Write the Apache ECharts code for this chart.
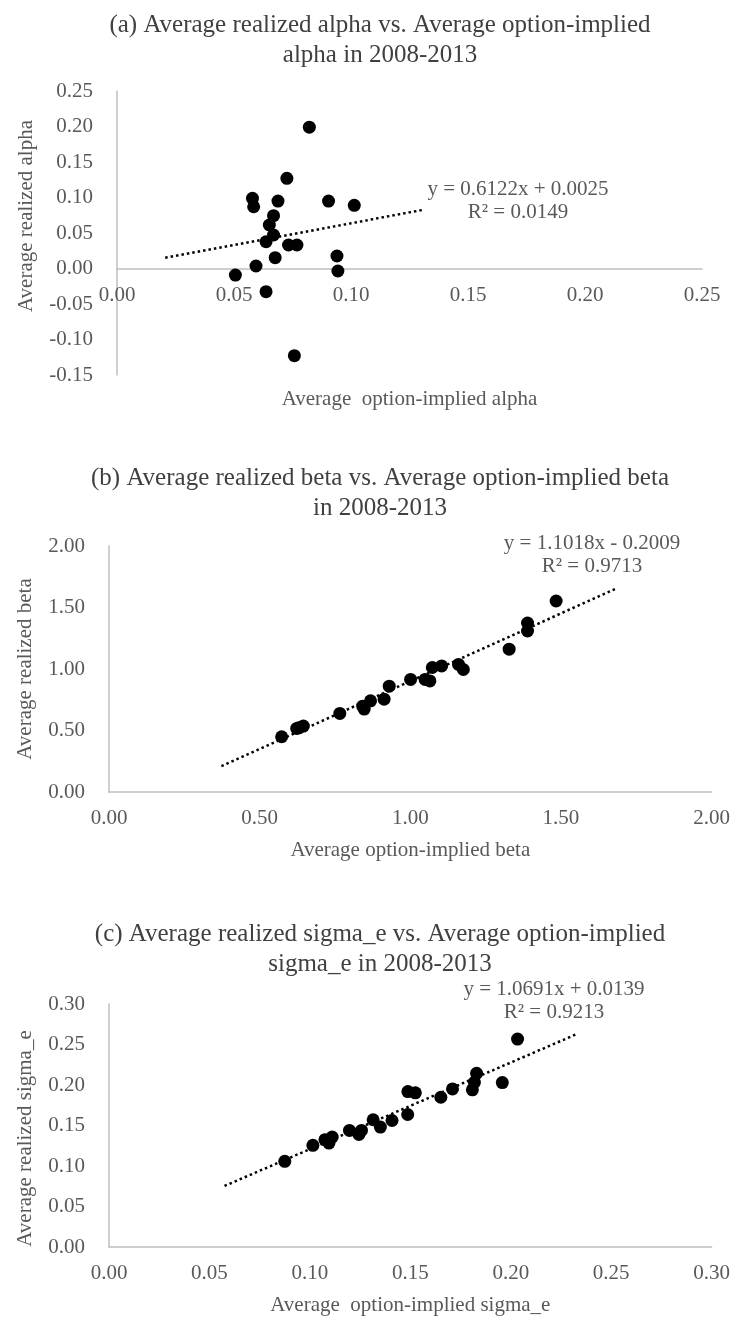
<!DOCTYPE html>
<html>
<head>
<meta charset="utf-8">
<script src="https://cdn.jsdelivr.net/npm/echarts@6/dist/echarts.min.js"></script>
<style>
html,body{margin:0;padding:0;background:#fff;}
#c{width:733px;height:1325px;}
</style>
</head>
<body>
<div id="c"></div>
<script>
// ---- Panel (a): alpha ----
const alphaImplied  = [0.0822,0.0726,0.0579,0.0584,0.0688,0.0904,0.1014,0.0669,0.0651,0.0669,0.0637,0.0733,0.0769,0.0676,0.0594,0.0506,0.0940,0.0944,0.0637,0.0758];
const alphaRealized = [0.199,0.127,0.0989,0.087,0.095,0.095,0.089,0.0744,0.0613,0.0472,0.0377,0.0331,0.0331,0.0152,0.0035,-0.0092,0.0176,-0.0035,-0.0327,-0.1228];
const alphaFit = {slope:0.6122, intercept:0.0025, r2:'0.0149', forecast:0.03};
const alphaTicks = {min:-0.15, max:0.25, xmin:0, xmax:0.25, step:0.05};
// tick labels of panel (a): x labels sit beside the y = 0 line
const alphaXTickLabels = [0, 0.05, 0.10, 0.15, 0.20, 0.25];
const alphaYTickLabels = [-0.15, -0.10, -0.05, 0, 0.05, 0.10, 0.15, 0.20, 0.25];

// ---- Panel (b): beta ----
const betaImplied  = [0.573,0.623,0.630,0.645,0.766,0.842,0.847,0.868,0.913,0.930,1.001,1.049,1.065,1.073,1.104,1.160,1.176,1.328,1.389,1.389,1.484];
const betaRealized = [0.449,0.517,0.522,0.536,0.639,0.698,0.674,0.741,0.755,0.860,0.915,0.915,0.903,1.012,1.025,1.037,0.996,1.161,1.374,1.309,1.553];
const betaFit = {slope:1.1018, intercept:-0.2009, r2:'0.9713', forecast:0.2};
const betaTicks = {min:0, max:2, xmin:0, xmax:2, step:0.5};

// ---- Panel (c): sigma_e ----
const sigImplied  = [0.0875,0.1015,0.1075,0.1095,0.1111,0.1197,0.1244,0.1257,0.1315,0.1351,0.1409,0.1487,0.1488,0.1525,0.1652,0.1710,0.1809,0.1819,0.1830,0.1958,0.2034];
const sigRealized = [0.1058,0.1255,0.1325,0.1283,0.1357,0.1439,0.1390,0.1439,0.1571,0.1480,0.1562,0.1636,0.1919,0.1903,0.1849,0.1952,0.1940,0.2033,0.2144,0.2030,0.2567];
const sigFit = {slope:1.0691, intercept:0.0139, r2:'0.9213', forecast:0.03};
const sigTicks = {min:0, max:0.30, xmin:0, xmax:0.30, step:0.05};

const titles = [
  '(a) Average realized alpha vs. Average option-implied\nalpha in 2008-2013',
  '(b) Average realized beta vs. Average option-implied beta\nin 2008-2013',
  '(c) Average realized sigma_e vs. Average option-implied\nsigma_e in 2008-2013'
];
const xNames = ['Average  option-implied alpha','Average option-implied beta','Average  option-implied sigma_e'];
const yNames = ['Average realized alpha','Average realized beta','Average realized sigma_e'];

const FONT = '"Liberation Serif", "Times New Roman", serif';
const GREY = '#595959';
const AXIS = '#bfbfbf';

function eqText(f){
  const sign = f.intercept < 0 ? ' - ' : ' + ';
  return 'y = ' + f.slope.toFixed(4) + 'x' + sign + Math.abs(f.intercept).toFixed(4);
}
function trend(xs, f){
  const lo = Math.min.apply(null, xs) - f.forecast;
  const hi = Math.max.apply(null, xs) + f.forecast;
  return [[lo, f.slope*lo + f.intercept],[hi, f.slope*hi + f.intercept]];
}
function pairs(xs, ys){ return xs.map((x,i)=>[x, ys[i]]); }
const fmt = v => v.toFixed(2);

const panels = [
  {xs:alphaImplied, ys:alphaRealized, fit:alphaFit, t:alphaTicks,
   grid:{left:117, top:91, width:585, height:284},
   titleTop:5, eqX:518, eqY:189, xGap:14, yGap:80, yPad:[0,0,0,34]},
  {xs:betaImplied, ys:betaRealized, fit:betaFit, t:betaTicks,
   grid:{left:109, top:546, width:604, height:246},
   titleTop:458, eqX:592, eqY:543, xGap:48, yGap:73, yPad:[0,0,0,0]},
  {xs:sigImplied, ys:sigRealized, fit:sigFit, t:sigTicks,
   grid:{left:109, top:1004, width:605, height:243},
   titleTop:914, eqX:554, eqY:989, xGap:48, yGap:73, yPad:[0,26,0,0]}
];

const labelStyle = {fontFamily:FONT, fontSize:21, color:GREY};

const xAxes = panels.map((p,i)=>({
  type:'value', gridIndex:i, min:p.t.xmin, max:p.t.xmax, interval:p.t.step,
  name:xNames[i], nameLocation:'middle', nameGap:p.xGap,
  nameTextStyle:labelStyle,
  axisLine:{show:true, onZero:true, lineStyle:{color:AXIS, width:1.5}},
  axisTick:{show:false}, splitLine:{show:false},
  axisLabel:Object.assign({show:i!==0, margin:16, formatter:fmt}, labelStyle)
}));

const yAxes = panels.map((p,i)=>({
  type:'value', gridIndex:i, min:p.t.min, max:p.t.max, interval:p.t.step,
  name:yNames[i], nameLocation:'middle', nameGap:p.yGap, nameRotate:90,
  nameTextStyle:Object.assign({padding:p.yPad}, labelStyle),
  axisLine:{show:true, onZero:false, lineStyle:{color:AXIS, width:1.5}},
  axisTick:{show:false}, splitLine:{show:false},
  axisLabel:Object.assign({show:i!==0, margin:24, formatter:fmt}, labelStyle)
}));

const series = [].concat(...panels.map((p,i)=>[
  {type:'line', xAxisIndex:i, yAxisIndex:i, data:trend(p.xs,p.fit), showSymbol:false, symbol:'none',
   lineStyle:{color:'#000', width:2.5, type:[2.5,3]}, silent:true, z:1},
  {type:'scatter', xAxisIndex:i, yAxisIndex:i, data:pairs(p.xs,p.ys), symbolSize:13,
   itemStyle:{color:'#000', opacity:1}, z:2}
]));

const graphics = [].concat(...panels.map(p=>[
  {type:'text', x:p.eqX, y:p.eqY, style:{text:eqText(p.fit), font:'21px '+FONT, fill:GREY, textAlign:'center', textVerticalAlign:'middle'}},
  {type:'text', x:p.eqX, y:p.eqY+23, style:{text:'R\u00B2 = '+p.fit.r2, font:'21px '+FONT, fill:GREY, textAlign:'center', textVerticalAlign:'middle'}}
]));

const option = {
  backgroundColor:'#fff',
  animation:false,
  title: panels.map((p,i)=>({
    text: titles[i], left:375, top:p.titleTop, textAlign:'center',
    textStyle:{fontFamily:FONT, fontSize:25, fontWeight:'normal', color:'#404040', lineHeight:30}
  })),
  grid: panels.map(p=>p.grid),
  xAxis: xAxes,
  yAxis: yAxes,
  series: series,
  graphic: graphics
};

const chart = echarts.init(document.getElementById('c'), null, {renderer:'canvas'});
chart.setOption(option);

// panel (a) tick labels, positioned through the chart's own scales
const tickTexts = [];
alphaXTickLabels.forEach(v=>{
  const pt = chart.convertToPixel({gridIndex:0}, [v, 0]);
  tickTexts.push({type:'text', x:pt[0], y:pt[1]+16, z:10,
    style:{text:fmt(v), font:'21px '+FONT, fill:GREY, textAlign:'center', textVerticalAlign:'top'}});
});
alphaYTickLabels.forEach(v=>{
  const pt = chart.convertToPixel({gridIndex:0}, [alphaTicks.xmin, v]);
  tickTexts.push({type:'text', x:pt[0]-24, y:pt[1], z:10,
    style:{text:fmt(v), font:'21px '+FONT, fill:GREY, textAlign:'right', textVerticalAlign:'middle'}});
});
chart.setOption({graphic: graphics.concat(tickTexts)});
</script>
</body>
</html>
